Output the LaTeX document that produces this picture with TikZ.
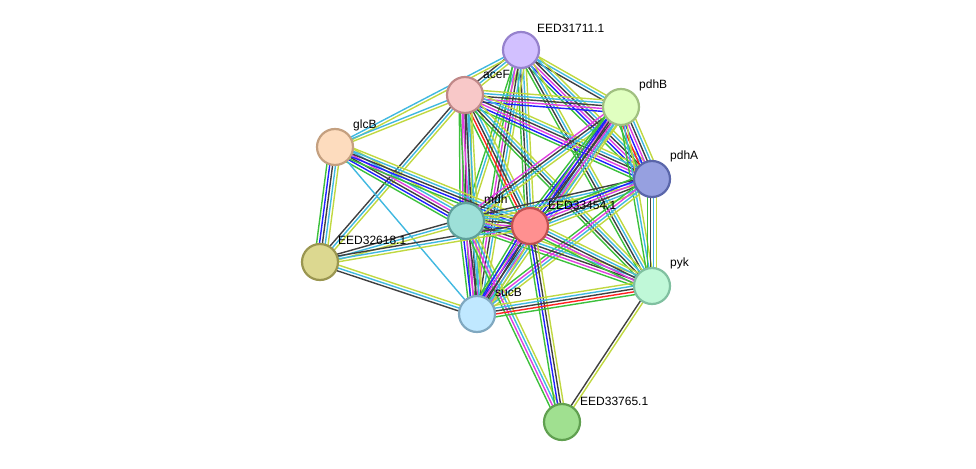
\documentclass[tikz,border=0pt]{standalone}
\usepackage{fontspec}
\setmainfont{Liberation Sans}
\usetikzlibrary{calc}
\pgfdeclarelayer{bg}
\pgfsetlayers{bg,main}
\definecolor{eG}{HTML}{3CC03C}
\definecolor{eR}{HTML}{FF2020}
\definecolor{eB}{HTML}{2020FF}
\definecolor{eK}{HTML}{404040}
\definecolor{eM}{HTML}{E040E0}
\definecolor{eC}{HTML}{40B8E0}
\definecolor{eY}{HTML}{C0D840}
\newcommand\sedge[3]{%
  \foreach \c [count=\i] in {#3}{\xdef\nn{\i}}%
  \foreach \c [count=\i] in {#3}{%
    \pgfmathsetmacro\off{(\i-(\nn+1)/2)*2.9}%
    \draw[\c, line width=1.4pt] ($(#1)!\off pt!90:(#2)$) -- ($(#2)!\off pt!-90:(#1)$);
  }}
\tikzset{prot/.style={circle, minimum size=36pt, inner sep=0pt, line width=2.2pt},
  lab/.style={font=\fontsize{12}{12}\selectfont, anchor=south west, inner sep=1pt}}
\begin{document}
\begin{tikzpicture}[x=1pt,y=-1pt]
\useasboundingbox (0,0) rectangle (976,468);
\node[prot, fill={rgb,255:red,210;green,192;blue,255}, draw={rgb,255:red,150;green,130;blue,205}] (n1) at (521,50) {};
\node[prot, fill={rgb,255:red,248;green,200;blue,200}, draw={rgb,255:red,192;green,136;blue,136}] (aceF) at (465,95) {};
\node[prot, fill={rgb,255:red,224;green,255;blue,192}, draw={rgb,255:red,160;green,192;blue,128}] (pdhB) at (621,107) {};
\node[prot, fill={rgb,255:red,253;green,220;blue,190}, draw={rgb,255:red,196;green,160;blue,128}] (glcB) at (335,147) {};
\node[prot, fill={rgb,255:red,150;green,160;blue,224}, draw={rgb,255:red,90;green,102;blue,170}] (pdhA) at (652,179) {};
\node[prot, fill={rgb,255:red,157;green,224;blue,216}, draw={rgb,255:red,95;green,160;blue,154}] (mdh) at (466,221) {};
\node[prot, fill={rgb,255:red,255;green,144;blue,144}, draw={rgb,255:red,192;green,80;blue,80}] (n2) at (530,226) {};
\node[prot, fill={rgb,255:red,220;green,216;blue,144}, draw={rgb,255:red,154;green,150;blue,80}] (n3) at (320,262) {};
\node[prot, fill={rgb,255:red,192;green,248;blue,216}, draw={rgb,255:red,128;green,192;blue,160}] (pyk) at (652,286) {};
\node[prot, fill={rgb,255:red,192;green,232;blue,255}, draw={rgb,255:red,128;green,168;blue,192}] (sucB) at (477,314) {};
\node[prot, fill={rgb,255:red,160;green,224;blue,144}, draw={rgb,255:red,96;green,160;blue,80}] (n4) at (562,422) {};
\begin{pgfonlayer}{bg}
\sedge{n1}{aceF}{eK,eC,eY}
\sedge{n1}{glcB}{eC,eY}
\sedge{n1}{pdhB}{eK,eC,eY}
\sedge{n1}{pdhA}{eG,eB,eM,eK,eC,eY}
\sedge{n1}{mdh}{eG,eC,eY}
\sedge{n1}{n2}{eG,eK,eC,eY}
\sedge{n1}{pyk}{eG,eK,eC,eY}
\sedge{n1}{sucB}{eG,eM,eK,eC,eY}
\sedge{aceF}{glcB}{eC,eY}
\sedge{aceF}{pdhB}{eB,eM,eK,eC,eY}
\sedge{aceF}{pdhA}{eG,eB,eM,eK,eC,eY}
\sedge{aceF}{mdh}{eG,eM,eK,eC,eY}
\sedge{aceF}{n2}{eG,eR,eK,eC,eY}
\sedge{aceF}{pyk}{eG,eK,eC,eY}
\sedge{aceF}{sucB}{eG,eM,eK,eC,eY}
\sedge{aceF}{n3}{eK,eC,eY}
\sedge{glcB}{mdh}{eG,eB,eK,eM,eC,eY}
\sedge{glcB}{n2}{eG,eB,eK,eC,eY}
\sedge{glcB}{n3}{eG,eB,eK,eC,eY}
\sedge{glcB}{sucB}{eC}
\sedge{pdhB}{pdhA}{eG,eR,eB,eM,eK,eC,eY}
\sedge{pdhB}{mdh}{eM,eK,eC,eY}
\sedge{pdhB}{n2}{eG,eB,eM,eK,eC,eY}
\sedge{pdhB}{sucB}{eG,eB,eK,eM,eC,eY}
\sedge{pdhB}{pyk}{eG,eC,eY}
\sedge{pdhA}{mdh}{eK,eC,eY}
\sedge{pdhA}{n2}{eG,eB,eM,eK,eC,eY}
\sedge{pdhA}{sucB}{eG,eM,eC,eY}
\sedge{pdhA}{pyk}{eG,eK,eC,eY}
\sedge{mdh}{n2}{eG,eB,eM,eK,eC,eY}
\sedge{mdh}{n3}{eK,eC,eY}
\sedge{mdh}{sucB}{eG,eB,eM,eK,eC,eY}
\sedge{mdh}{pyk}{eG,eM,eK,eC,eY}
\sedge{mdh}{n4}{eG,eM,eC,eY}
\sedge{n2}{n3}{eK,eC,eY}
\sedge{n2}{sucB}{eG,eB,eM,eK,eC,eY}
\sedge{n2}{pyk}{eG,eM,eK,eC,eY}
\sedge{n2}{n4}{eG,eB,eK,eY}
\sedge{n3}{sucB}{eK,eC,eY}
\sedge{sucB}{pyk}{eG,eR,eK,eC,eY}
\sedge{pyk}{n4}{eK,eY}
\end{pgfonlayer}
\node[lab] at (536,34) {EED31711.1};
\node[lab] at (482,80) {aceF};
\node[lab] at (638,92) {pdhB};
\node[lab] at (352,132) {glcB};
\node[lab] at (669,163) {pdhA};
\node[lab] at (483,205) {mdh};
\node[lab] at (547,211) {EED33454.1};
\node[lab] at (337,246) {EED32618.1};
\node[lab] at (669,270) {pyk};
\node[lab] at (494,298) {sucB};
\node[lab] at (579,407) {EED33765.1};
\end{tikzpicture}
\end{document}
